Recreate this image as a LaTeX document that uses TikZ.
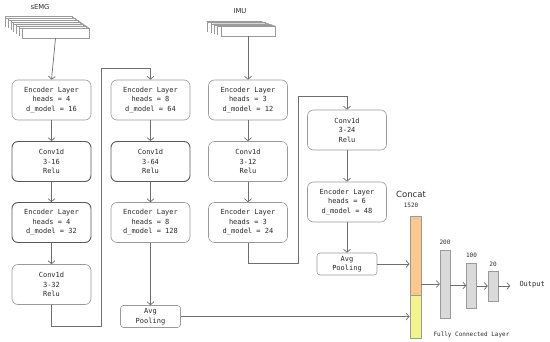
\documentclass[tikz,border=0pt]{standalone}
\usepackage{fontspec}
\setmonofont{DejaVu Sans Mono}
\setsansfont{DejaVu Sans}
\usetikzlibrary{arrows.meta}
\definecolor{boxgray}{HTML}{9A9A9A}
\definecolor{boxdark}{HTML}{5A5A5A}
\definecolor{linegray}{HTML}{6E6E6E}
\definecolor{txt}{HTML}{2A2A2A}
\definecolor{orangebar}{HTML}{FBC98E}
\definecolor{yellowbar}{HTML}{F2F58C}
\definecolor{fcgray}{HTML}{DADADA}
\begin{document}
\begin{tikzpicture}[x=1pt,y=-1pt,
  box/.style={draw=boxgray, line width=0.6pt, rounded corners=6pt, fill=white,
    minimum width=79pt, minimum height=40pt, align=center, inner sep=1pt,
    font=\ttfamily\fontsize{7}{9.5}\selectfont, text=txt},
  darkbox/.style={box, draw=boxdark, line width=0.9pt},
  pool/.style={box, rounded corners=3pt, minimum width=60pt, minimum height=22pt},
  conn/.style={draw=linegray, line width=0.7pt},
  arr/.style={conn, -{Straight Barb[length=3pt,width=7pt]}},
  slab/.style={draw=boxgray, line width=0.5pt, fill=white},
  slabtop/.style={draw=boxgray, line width=0.4pt, fill=gray!45},
  bar/.style={draw=boxgray, line width=0.5pt, fill=fcgray, minimum width=10pt, inner sep=0pt},
  small/.style={font=\ttfamily\fontsize{6}{7}\selectfont, text=txt},
  lbl/.style={font=\sffamily\fontsize{6.8}{8}\selectfont, text=txt}]
\useasboundingbox (0,0) rectangle (550,342);

% ---- sEMG input stack
\node[lbl] (semg) at (40,7) {sEMG};
\foreach \i in {6,...,1}{
  \fill[slabtop] (22-2.8*\i,28-1.9*\i) -- (89-2.8*\i,28-1.9*\i) -- (89-2.8*\i+2.8,28-1.9*\i+1.9) -- (22-2.8*\i+2.8,28-1.9*\i+1.9) -- cycle;
  \draw[slab] (22-2.8*\i,28-1.9*\i) rectangle ++(67,1.9);
  \draw[boxgray, line width=0.5pt] (22-2.8*\i,28-1.9*\i) -- ++(0,10);
}
\node[slab, minimum width=67pt, minimum height=10pt, inner sep=0pt] (semgin) at (55.5,33) {};

% ---- IMU input stack
\node[lbl] (imu) at (240,11) {IMU};
\foreach \i in {4,...,1}{
  \fill[slabtop] (221-3.4*\i,26-1.1*\i) -- (275-3.4*\i,26-1.1*\i) -- (275-3.4*\i+3.4,26-1.1*\i+1.1) -- (221-3.4*\i+3.4,26-1.1*\i+1.1) -- cycle;
  \draw[slab] (221-3.4*\i,26-1.1*\i) rectangle ++(54,1.1);
  \draw[boxgray, line width=0.5pt] (221-3.4*\i,26-1.1*\i) -- ++(0,10);
}
\node[slab, minimum width=54pt, minimum height=10pt, inner sep=0pt] (imuin) at (248,31) {};

% ---- column 1
\node[box]     (c1a) at (51.5,100)   {Encoder Layer\\heads = 4\\d\_model = 16};
\node[darkbox] (c1b) at (51.5,161.5) {Conv1d\\3-16\\Relu};
\node[darkbox] (c1c) at (51.5,222.5) {Encoder Layer\\heads = 4\\d\_model = 32};
\node[box]     (c1d) at (51.5,284.5) {Conv1d\\3-32\\Relu};

% ---- column 2
\node[box]     (c2a) at (150.5,100)   {Encoder Layer\\heads = 8\\d\_model = 64};
\node[darkbox] (c2b) at (150.5,161.5) {Conv1d\\3-64\\Relu};
\node[box]     (c2c) at (150.5,222.5) {Encoder Layer\\heads = 8\\d\_model = 128};
\node[pool]    (p1)  at (150.5,316.5) {Avg\\Pooling};

% ---- column 3
\node[box] (c3a) at (248,100)   {Encoder Layer\\heads = 3\\d\_model = 12};
\node[box] (c3b) at (248,161.5) {Conv1d\\3-12\\Relu};
\node[box] (c3c) at (248,222.5) {Encoder Layer\\heads = 3\\d\_model = 24};

% ---- column 4
\node[box]  (c4a) at (347,130) {Conv1d\\3-24\\Relu};
\node[box]  (c4b) at (347,202) {Encoder Layer\\heads = 6\\d\_model = 48};
\node[pool] (p2)  at (347,264) {Avg\\Pooling};

% ---- concat and fully connected
\node[font=\sffamily\fontsize{8.5}{10}\selectfont, text=txt] (concat) at (411,194) {Concat};
\node[small] (n1520) at (411,205) {1520};
\node[draw=boxgray, line width=0.5pt, fill=orangebar, minimum width=11pt, minimum height=79pt, inner sep=0pt, anchor=north west] (cat1) at (409.5,216) {};
\node[draw=boxgray, line width=0.5pt, fill=yellowbar, minimum width=11pt, minimum height=43pt, inner sep=0pt, anchor=north west] (cat2) at (409.5,295) {};
\node[bar, minimum height=68pt] (f1) at (445,284) {};
\node[bar, minimum height=45pt] (f2) at (471.5,285.5) {};
\node[bar, minimum height=30pt] (f3) at (493,286) {};
\node[small] (l200) at (445,242) {200};
\node[small] (l100) at (471.5,255) {100};
\node[small] (l20)  at (493,264) {20};
\node[font=\ttfamily\fontsize{7}{8}\selectfont, text=txt, anchor=west] (out) at (516,285) {Output};
\node[small, anchor=west] (fcl) at (430,335) {Fully Connected Layer};

% ---- connectors
\coordinate (j1) at (101,326);
\coordinate (j2) at (101,68);
\coordinate (k1) at (298,263);
\coordinate (k2) at (298,96);

\draw[arr] (semgin.south) -- (c1a.north);
\draw[arr] (c1a) -- (c1b);
\draw[arr] (c1b) -- (c1c);
\draw[arr] (c1c) -- (c1d);
\draw[arr] (c1d.south) |- (j1) -- (j2) -| (c2a.north);
\draw[arr] (c2a) -- (c2b);
\draw[arr] (c2b) -- (c2c);
\draw[arr] (c2c) -- (p1);
\draw[arr] (p1.east) -- (p1.east -| cat2.west);

\draw[arr] (imuin.south) -- (c3a.north);
\draw[arr] (c3a) -- (c3b);
\draw[arr] (c3b) -- (c3c);
\draw[arr] (c3c.south) |- (k1) -- (k2) -| (c4a.north);
\draw[arr] (c4a) -- (c4b);
\draw[arr] (c4b) -- (p2);
\draw[arr] (p2.east) -- (p2.east -| cat1.west);

\draw[arr] (cat1.east |- f1.center) -- (f1.west);
\draw[arr] (f1.east |- f2.center) -- (f2.west);
\draw[arr] (f2.east |- f3.center) -- (f3.west);
\draw[arr] (f3.east) -- ++(12,0);
\end{tikzpicture}
\end{document}
